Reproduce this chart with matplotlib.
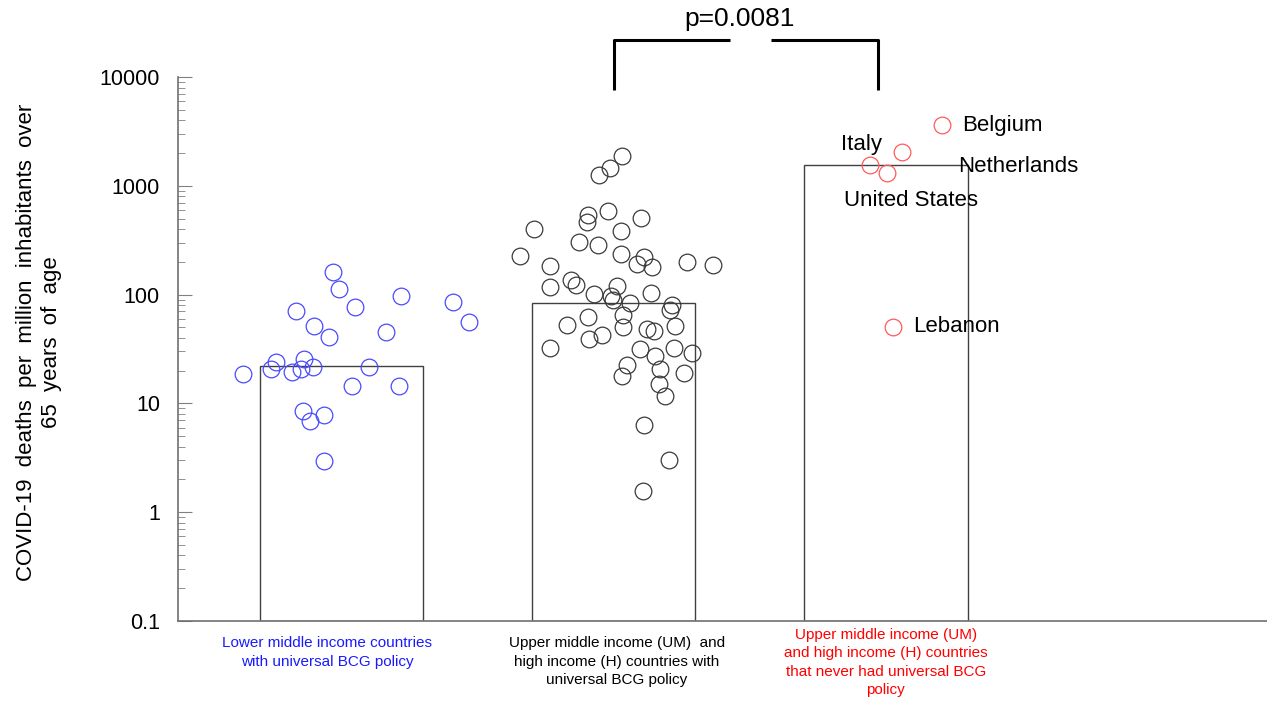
import numpy as np
import matplotlib.pyplot as plt

plt.rcParams['font.family'] = ['Liberation Sans', 'DejaVu Sans']

# group summary (bar heights)
groups = ["Lower middle income countries\nwith universal BCG policy",
          "Upper middle income (UM)  and\nhigh income (H) countries with\nuniversal BCG policy",
          "Upper middle income (UM)\nand high income (H) countries\nthat never had universal BCG\npolicy"]
bar_values = [22, 84, 1560]

# lower middle income, universal BCG
low_jitter = [-0.361, -0.259, -0.240, -0.181, -0.149, -0.139, -0.105, -0.168, -0.100, -0.047,
              -0.032, -0.007, 0.051, 0.219, 0.165, 0.102, 0.039, 0.211, 0.409, 0.468,
              -0.142, -0.065, -0.115, -0.063]
low_vals = [18.6, 20.7, 24.2, 19.6, 20.7, 25.4, 21.8, 70, 51, 40.8,
            163, 112, 77, 97, 45, 21.5, 14.5, 14.5, 85.5, 56,
            8.6, 7.9, 6.9, 2.96]

# UM + H, universal BCG
high_jitter = [0.032, -0.013, -0.052, -0.019, -0.093, -0.099, 0.100, -0.292, 0.026, -0.126,
               -0.056, -0.344, 0.026, 0.111, 0.085, 0.142, 0.270, 0.365, -0.232, -0.232,
               -0.156, -0.137, -0.072, 0.014, -0.009, -0.001, 0.062, 0.139, 0.214, 0.208,
               -0.094, -0.171, 0.035, 0.035, 0.122, 0.150, 0.227, -0.091, -0.041, -0.232,
               0.097, 0.221, 0.289, 0.151, 0.051, 0.032, 0.170, 0.257, 0.168, 0.189,
               0.113, 0.204, 0.108]
high_vals = [1891, 1448, 1257, 590, 539, 462, 509, 403, 387, 302,
             286, 228, 236, 223, 190, 178, 199, 186, 184, 118,
             135, 122.5, 102, 120, 97.7, 88.6, 83.2, 103, 80.2, 72.2,
             61.8, 52.9, 64.9, 50.0, 48.0, 46.3, 51.4, 39.1, 42.8, 32.1,
             31.8, 32.5, 29.2, 27.1, 22.5, 17.9, 20.6, 18.9, 15.1, 11.8,
             6.3, 3.04, 1.57]

# UM + H, never universal BCG
never_names = ["Belgium", "Netherlands", "Italy", "United States", "Lebanon"]
never_jitter = [0.205, 0.058, -0.058, 0.006, 0.028]
never_vals = [3597, 2058, 1543, 1320, 50.7]

fig = plt.figure(figsize=(12.67, 7.07), dpi=100)
ax = fig.add_axes([178/1267, 86/707, 1089/1267, 544/707])
ax.set_yscale('log')

x = np.arange(len(bar_values))
ax.bar(x, np.array(bar_values) - 0.1, bottom=0.1, width=0.6,
       facecolor='white', edgecolor='#404040', linewidth=1, zorder=1)

ms = 12
ax.plot(x[0] + np.array(low_jitter), low_vals, 'o', ms=ms, mfc='none',
        mec='#4a4aff', mew=0.9, ls='none', zorder=3)
ax.plot(x[1] + np.array(high_jitter), high_vals, 'o', ms=ms, mfc='none',
        mec='#3a3a3a', mew=0.9, ls='none', zorder=3)
ax.plot(x[2] + np.array(never_jitter), never_vals, 'o', ms=ms, mfc='none',
        mec='#ff5a5a', mew=0.9, ls='none', zorder=3)

# country labels
offsets = {"Belgium": (15, 0, 'left'), "Netherlands": (41, -11, 'left'),
           "Italy": (-6, 15, 'center'), "United States": (17, -20, 'center'),
           "Lebanon": (14, 0, 'left')}
for name, xj, v in zip(never_names, never_jitter, never_vals):
    dx, dy, ha = offsets[name]
    ax.annotate(name, (x[2] + xj, v), xytext=(dx, dy), textcoords='offset points',
                ha=ha, va='center', fontsize=16, zorder=4)

ax.set_xlim(-0.6, 3.4)
ax.set_ylim(0.1, 10000)
ax.set_yticks([0.1, 1, 10, 100, 1000, 10000])
ax.set_yticklabels(['0.1', '1', '10', '100', '1000', '10000'])
ax.set_xticks([])
ax.tick_params(axis='y', which='major', direction='in', length=10, color='#808080',
               labelsize=15.5, pad=13)
ax.tick_params(axis='y', which='minor', direction='in', length=5, color='#808080')
for s in ['top', 'right']:
    ax.spines[s].set_visible(False)
for s in ['left', 'bottom']:
    ax.spines[s].set_color('#707070')
    ax.spines[s].set_linewidth(1.2)

# group labels under axis
label_colors = ['#1a1aff', 'black', '#ff0000']
label_y = [-0.028, -0.028, -0.013]
label_dx = [-0.053, 0.012, 0.0]
for i, (g, c) in enumerate(zip(groups, label_colors)):
    ax.text(x[i] + label_dx[i], label_y[i], g, transform=ax.get_xaxis_transform(),
            ha='center', va='top', fontsize=11, color=c, linespacing=1.4)

# significance bracket
tr = ax.get_xaxis_transform()
xl, xr = 1.0, 1.97
kw = dict(color='black', lw=2.2, transform=tr, clip_on=False, solid_capstyle='butt')
ax.plot([xl, xl, 1.427], [0.976, 1.068, 1.068], **kw)
ax.plot([1.578, xr, xr], [1.068, 1.068, 0.976], **kw)
fig.text(740/1267, 1 - 19/707, 'p=0.0081', ha='center', va='center', fontsize=19)

fig.text(39/1267, 1 - 342/707,
         'COVID-19  deaths  per  million  inhabitants  over\n65  years  of  age',
         rotation=90, ha='center', va='center', fontsize=16, linespacing=1.3)

fig.savefig('out.png', dpi=100)
